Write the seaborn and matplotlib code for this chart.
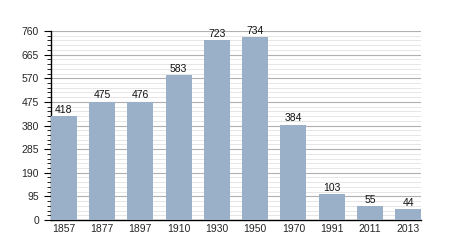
import matplotlib
matplotlib.use("Agg")
import matplotlib.pyplot as plt
import seaborn as sns
import pandas as pd
import numpy as np
from matplotlib.ticker import MultipleLocator

years = ["1857", "1877", "1897", "1910", "1930", "1950", "1970", "1991", "2011", "2013"]
population = [418, 475, 476, 583, 723, 734, 384, 103, 55, 44]
yticks = [0, 95, 190, 285, 380, 475, 570, 665, 760]

sns.set_style("white")
plt.rcParams['font.family'] = ['Liberation Sans', 'DejaVu Sans']

df = pd.DataFrame({"year": years, "pop": population})

fig = plt.figure(figsize=(4.5, 2.5), dpi=100)
ax = fig.add_axes([0.113, 0.12, 0.823, 0.756])

ax.set_ylim(0, 760)
ax.set_yticks(yticks)
ax.yaxis.set_minor_locator(MultipleLocator(19))
ax.grid(axis='y', which='major', color='#b0b0b0', linewidth=0.8, zorder=0)
ax.grid(axis='y', which='minor', color='#e2e2e2', linewidth=0.6, zorder=0)
ax.set_axisbelow(True)

sns.barplot(data=df, x="year", y="pop", color="#9ab0c9", saturation=1,
            width=0.68, ax=ax, zorder=3, edgecolor='none', linewidth=0)

ax.set_xlim(-0.34, len(years) - 1 + 0.34)
for i, v in enumerate(population):
    ax.text(i, v + 6, str(v), ha='center', va='bottom', fontsize=7.5, color='#111111')

ax.set_xlabel("")
ax.set_ylabel("")
for s in ['top', 'right']:
    ax.spines[s].set_visible(False)
ax.spines['left'].set_color('black')
ax.spines['bottom'].set_color('black')
ax.spines['left'].set_linewidth(1.0)
ax.spines['bottom'].set_linewidth(1.0)
ax.tick_params(axis='y', which='major', length=5, width=0.8, color='black', labelsize=7.5, left=True, direction='out')
ax.tick_params(axis='y', which='minor', length=3, width=0.6, color='black', left=True, direction='out')
ax.tick_params(axis='x', length=0, labelsize=7.5, pad=3)

fig.savefig("out.png", dpi=100)
